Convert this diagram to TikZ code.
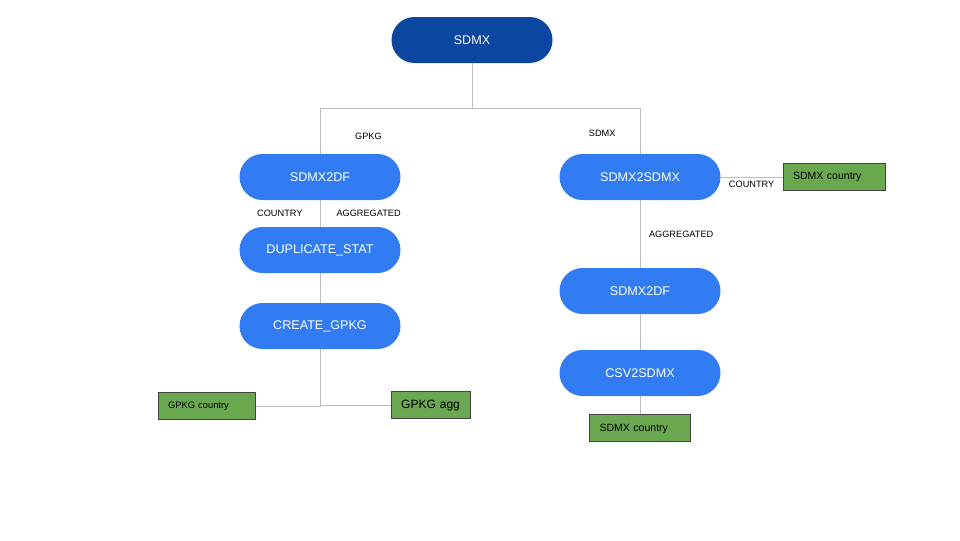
\documentclass[tikz,border=0pt]{standalone}
\usepackage{fontspec}
\setmainfont{Liberation Sans}
\usetikzlibrary{positioning}
\definecolor{rootblue}{HTML}{0B47A1}
\definecolor{stepblue}{HTML}{317CF2}
\definecolor{outgreen}{HTML}{6AA84F}
\definecolor{edgegrey}{HTML}{434343}
\definecolor{linegrey}{HTML}{BDBDBD}
\tikzstyle{pill} = [rectangle, rounded corners=17.25pt, minimum width=120.75pt, minimum height=34.5pt, text centered, text=white, font=\fontsize{9.45}{11}\selectfont, fill=stepblue]
\tikzstyle{rootpill} = [pill, fill=rootblue]
\tikzstyle{output} = [rectangle, draw=edgegrey, line width=0.75pt, fill=outgreen, minimum height=20.25pt, inner ysep=0pt, inner xsep=7.5pt, align=left]
\tikzstyle{tag} = [inner sep=0pt, font=\fontsize{6.9}{8}\selectfont]
\tikzstyle{link} = [draw=linegrey, line width=0.75pt]

\begin{document}
\begin{tikzpicture}

        \useasboundingbox (0,0) rectangle (720pt,-405pt);

        % Source
        \node (root) [rootpill] at (354pt,-30pt) {SDMX};
        \coordinate [below of=root, node distance=51pt] (split);

        % GPKG branch
        \node (df1) [pill, node distance=102.75pt, below of=root, xshift=-114pt] {SDMX2DF};
        \node (dup) [pill, node distance=54.75pt, below of=df1] {DUPLICATE\_STAT};
        \node (gpkg) [pill, node distance=57pt, below of=dup] {CREATE\_GPKG};

        % SDMX branch
        \node (s2s) [pill, node distance=102.75pt, below of=root, xshift=126pt] {SDMX2SDMX};
        \node (df2) [pill, node distance=85.5pt, below of=s2s] {SDMX2DF};
        \node (csv) [pill, node distance=61.5pt, below of=df2] {CSV2SDMX};

        % Outputs
        \node (gcountry) [output, text width=57.75pt, font=\fontsize{7}{8}\selectfont, node distance=60pt, below of=gpkg, xshift=-85pt] {GPKG country};
        \node (gagg) [output, text width=44.25pt, font=\fontsize{9}{10}\selectfont, node distance=59.6pt, below of=gpkg, xshift=83pt] {GPKG agg};
        \node (scountry) [output, text width=61.5pt, font=\fontsize{7.9}{9}\selectfont, node distance=145.5pt, right of=s2s] {SDMX country};
        \node (scountry2) [output, text width=60.75pt, font=\fontsize{7.9}{9}\selectfont, node distance=41.6pt, below of=csv] {SDMX country};

        % Connections from source
        \draw [link] (root) -- (split);
        \draw [link] (split) -| node[tag, pos=0.815, right=26pt] {GPKG} (df1);
        \draw [link] (split) -| node[tag, pos=0.78, left=18pt] {SDMX} (s2s);

        % GPKG branch connections
        \draw [link] (df1) -- node[tag, midway, left=12.75pt] {COUNTRY} node[tag, midway, right=12pt] {AGGREGATED} (dup);
        \draw [link] (dup) -- (gpkg);
        \draw [link] (gpkg) |- (gcountry);
        \draw [link] (gpkg) |- (gagg);

        % SDMX branch connections
        \draw [link] (s2s) -- node[tag, midway, below=2.5pt] {COUNTRY} (scountry);
        \draw [link] (s2s) -- node[tag, midway, right=6.4pt] {AGGREGATED} (df2);
        \draw [link] (df2) -- (csv);
        \draw [link] (csv) -- (scountry2);

\end{tikzpicture}
\end{document}
